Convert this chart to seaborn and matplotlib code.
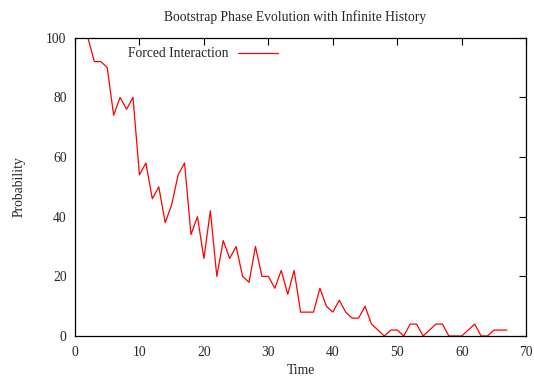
import matplotlib
matplotlib.use("Agg")
import matplotlib.pyplot as plt
import seaborn as sns
import pandas as pd

time = list(range(1, 68))
probability = [
    100, 100, 92, 92, 90, 74, 80, 76, 80, 54,
    58, 46, 50, 38, 44, 54, 58, 34, 40, 26,
    42, 20, 32, 26, 30, 20, 18, 30, 20, 20,
    16, 22, 14, 22, 8, 8, 8, 16, 10, 8,
    12, 8, 6, 6, 10, 4, 2, 0, 2, 2,
    0, 4, 4, 0, 2, 4, 4, 0, 0, 0,
    2, 4, 0, 0, 2, 2, 2,
]
series_name = "Forced Interaction"
x_ticks = [0, 10, 20, 30, 40, 50, 60, 70]
y_ticks = [0, 20, 40, 60, 80, 100]

df = pd.DataFrame({"Time": time, "Probability": probability, "series": series_name})

sns.set_style("white")
plt.rcParams["font.family"] = ["Liberation Serif", "DejaVu Serif"]

fig = plt.figure(figsize=(5.34, 3.78), dpi=100)
ax = fig.add_axes([0.1404, 0.1111, 0.845, 0.7892])

sns.lineplot(data=df, x="Time", y="Probability", hue="series",
             palette=["#ff0000"], linewidth=0.9, ax=ax)

ax.set_xlim(0, 70)
ax.set_ylim(0, 100)
ax.set_xticks(x_ticks)
ax.set_yticks(y_ticks)
ax.tick_params(direction="in", length=5, width=0.8, color="black",
               labelsize=9.8, top=True, right=True)
ax.tick_params(axis="x", pad=7)
ax.tick_params(axis="y", pad=6)
for s in ax.spines.values():
    s.set_color("black")
    s.set_linewidth(0.9)

ax.set_xlabel("Time", fontsize=9.8, labelpad=4)
ax.set_ylabel("Probability", fontsize=9.8, labelpad=15)
ax.set_title("Bootstrap Phase Evolution with Infinite History", fontsize=9.8,
             pad=12, x=0.487)

ax.legend(loc="upper left", bbox_to_anchor=(0.1, 0.995), frameon=False,
          markerfirst=False, fontsize=9.8, handlelength=3.0, handletextpad=0.65,
          borderaxespad=0.2)

fig.savefig("out.png", dpi=100)
